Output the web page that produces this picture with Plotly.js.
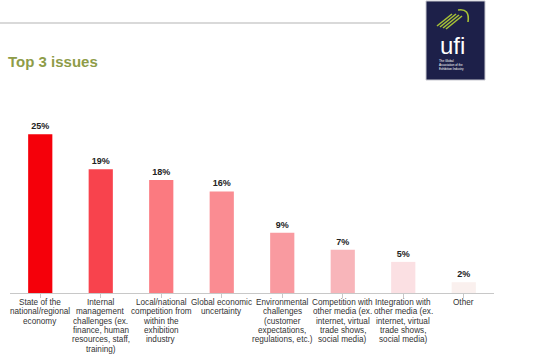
<!DOCTYPE html>
<html>
<head>
<meta charset="utf-8">
<script src="https://cdn.plot.ly/plotly-3.0.1.min.js"></script>
<style>html,body{margin:0;padding:0;background:#fff;}#chart{width:538px;height:354px;}</style>
</head>
<body>
<div id="chart"></div>
<script>
// Data
const categories = [
  "State of the<br>national/regional<br>economy",
  "Internal<br>management<br>challenges (ex.<br>finance, human<br>resources, staff,<br>training)",
  "Local/national<br>competition from<br>within the<br>exhibition<br>industry",
  "Global economic<br>uncertainty",
  "Environmental<br>challenges<br>(customer<br>expectations,<br>regulations, etc.)",
  "Competition with<br>other media (ex.<br>internet, virtual<br>trade shows,<br>social media)",
  "Integration with<br>other media (ex.<br>internet, virtual<br>trade shows,<br>social media)",
  "Other"
];
const values = [25, 19.5, 17.8, 16, 9.5, 6.8, 4.9, 1.7];
const valueLabels = ["25%", "19%", "18%", "16%", "9%", "7%", "5%", "2%"];
const barColors = ["#f5000a", "#f8434d", "#fb7a80", "#fa8c92", "#f99aa0", "#f8b5ba", "#fbe0e3", "#faf0ee"];

// pixel helpers for decorations
const W = 538, H = 354, ML = 10, MR = 44, MT = 100, MB = 61;
const pw = W - ML - MR, ph = H - MT - MB;
const px = x => (x - ML) / pw;
const py = y => (H - MB - y) / ph;
const FONT = "Liberation Sans, Arial, sans-serif";

const trace = {
  type: "bar",
  x: categories.map((c, i) => i),
  y: values,
  text: valueLabels,
  textposition: "outside",
  cliponaxis: false,
  textfont: {family: FONT, size: 9, color: "#222"},
  texttemplate: "<b>%{text}</b>",
  marker: {color: barColors},
  width: 0.4,
  hoverinfo: "none"
};

const shapes = [
  {type: "line", xref: "paper", yref: "paper", x0: px(0), x1: px(390), y0: py(23), y1: py(23), line: {color: "#d9d9d9", width: 2}},
  {type: "rect", xref: "paper", yref: "paper", x0: px(426), x1: px(485), y0: py(1), y1: py(80), fillcolor: "#1d2049", line: {color: "#c8c8d0", width: 1}}
];
// logo stripes
const stripes = [[437, 26, 452, 14], [440, 27, 456, 14], [443, 28, 459, 15], [446, 29, 462, 16]];
stripes.forEach(s => shapes.push({type: "line", xref: "paper", yref: "paper", x0: px(s[0]), y0: py(s[1]), x1: px(s[2]), y1: py(s[3]), line: {color: "#a7c236", width: 1.6}}));
shapes.push({type: "path", xref: "paper", yref: "paper",
  path: `M ${px(458)} ${py(10)} Q ${px(470)} ${py(8)} ${px(468)} ${py(22)}`, line: {color: "#a7c236", width: 1.6}});

const annotations = [
  {text: "<b>Top 3 issues</b>", xref: "paper", yref: "paper", x: px(6), y: py(62), xanchor: "left", yanchor: "middle", showarrow: false,
   font: {family: FONT, size: 15, color: "#8e9c48"}},
  {text: "ufi", xref: "paper", yref: "paper", x: px(452), y: py(45), xanchor: "center", yanchor: "middle", showarrow: false,
   font: {family: FONT, size: 24, color: "#ffffff"}},
  {text: "The Global<br>Association of the<br>Exhibition Industry", xref: "paper", yref: "paper", x: px(437), y: py(65), xanchor: "left", yanchor: "middle", align: "left", showarrow: false,
   font: {family: FONT, size: 3, color: "#ffffff"}}
];

// category labels, one annotation per line for tight line spacing
categories.forEach((c, i) => {
  c.split("<br>").forEach((line, k) => {
    annotations.push({text: line, xref: "x", yref: "paper", x: i, y: py(302.5 + k * 9.3),
      xanchor: "center", yanchor: "middle", showarrow: false,
      font: {family: FONT, size: 8.2, color: "#333"}});
  });
});

const layout = {
  width: W, height: H,
  margin: {l: ML, r: MR, t: MT, b: MB, pad: 0},
  paper_bgcolor: "#ffffff", plot_bgcolor: "#ffffff",
  showlegend: false,
  xaxis: {
    tickmode: "array", tickvals: categories.map((c, i) => i), ticktext: categories,
    showticklabels: false,
    range: [-0.5, 7.5],
    tickson: "boundaries", ticks: "outside", ticklen: 4, tickcolor: "#c8c8c8",
    showline: true, linecolor: "#c8c8c8", linewidth: 1,
    showgrid: false, zeroline: false, fixedrange: true
  },
  yaxis: {range: [0, 30.4], visible: false, showgrid: false, zeroline: false, fixedrange: true},
  shapes: shapes,
  annotations: annotations,
  font: {family: FONT}
};

Plotly.newPlot("chart", [trace], layout, {displayModeBar: false, staticPlot: true});
</script>
</body>
</html>
